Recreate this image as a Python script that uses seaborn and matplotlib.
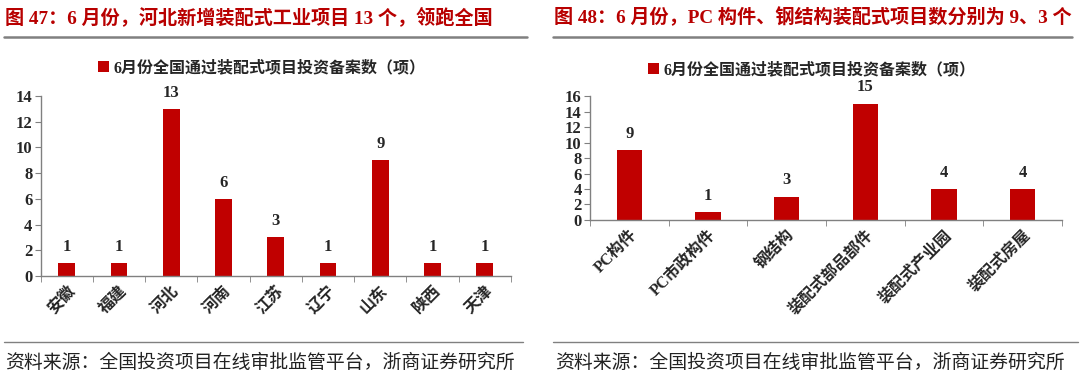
import matplotlib
matplotlib.use("Agg")
import matplotlib.pyplot as plt
import seaborn as sns
import pandas as pd
from matplotlib.ticker import FixedLocator, MultipleLocator
from matplotlib.lines import Line2D
from matplotlib.patches import Patch

sns.set_style("white")
plt.rcParams['font.family'] = ['Liberation Serif', 'Noto Sans CJK SC', 'DejaVu Sans']

# ---- data ----
left_title = "图 47：6 月份，河北新增装配式工业项目 13 个，领跑全国"
right_title = "图 48：6 月份，PC 构件、钢结构装配式项目数分别为 9、3 个"
legend_label = "6月份全国通过装配式项目投资备案数（项）"
source_text = "资料来源：全国投资项目在线审批监管平台，浙商证券研究所"

provinces = ["安徽", "福建", "河北", "河南", "江苏", "辽宁", "山东", "陕西", "天津"]
province_counts = [1, 1, 13, 6, 3, 1, 9, 1, 1]

types = ["PC构件", "PC市政构件", "钢结构", "装配式部品部件", "装配式产业园", "装配式房屋"]
type_counts = [9, 1, 3, 15, 4, 4]

RED = "#C00000"
TITLE_RED = "#B80000"
GRAY = "#808080"
CJK = ['Liberation Serif', 'Noto Sans CJK SC', 'DejaVu Sans']

fig = plt.figure(figsize=(10.8, 3.83), dpi=100)

def panel(rect, cats, vals, ymax, ystep, xlabel_size):
    ax = fig.add_axes(rect)
    df = pd.DataFrame({"cat": cats, "val": vals})
    sns.barplot(data=df, x="cat", y="val", color=RED, width=0.32, ax=ax,
                saturation=1, edgecolor="none")
    ax.set_xlim(-0.5, len(cats) - 0.5)
    ax.set_ylim(0, ymax)
    ax.yaxis.set_major_locator(MultipleLocator(ystep))
    ax.set_xlabel("")
    ax.set_ylabel("")
    for s in ["top", "right"]:
        ax.spines[s].set_visible(False)
    for s in ["left", "bottom"]:
        ax.spines[s].set_color(GRAY)
        ax.spines[s].set_linewidth(1.0)
    ax.xaxis.set_minor_locator(FixedLocator([i - 0.5 for i in range(len(cats) + 1)]))
    ax.tick_params(axis="x", which="major", length=0, pad=5)
    ax.tick_params(axis="x", which="minor", length=4, color=GRAY, direction="out", bottom=True)
    ax.tick_params(axis="y", length=4, color=GRAY, direction="out", left=True, pad=2)
    for lab in ax.get_yticklabels():
        lab.set_fontfamily('Liberation Serif')
        lab.set_fontweight("bold")
        lab.set_fontsize(12)
    ax.set_xticks(range(len(cats)))
    ax.set_xticklabels(cats, rotation=45, ha="right", va="top",
                       rotation_mode="anchor", fontsize=xlabel_size,
                       family=CJK, fontweight="bold")
    for c in ax.containers:
        ax.bar_label(c, padding=6, fontsize=12, fontweight="bold",
                     family='Liberation Serif')
    handle = Patch(facecolor=RED, edgecolor="none")
    ax.legend([handle], [legend_label], loc="lower center",
              bbox_to_anchor=(0.47, 1.03), frameon=False,
              prop={"family": CJK, "size": 11.5, "weight": "bold"},
              handlelength=0.7, handleheight=0.7, handletextpad=0.3)
    return ax

axL = panel([0.0377, 0.2794, 0.4354, 0.4699], provinces, province_counts, 14, 2, 11.5)
axR = panel([0.5463, 0.4256, 0.4370, 0.3237], types, type_counts, 16, 2, 11.5)

# titles
fig.text(5 / 1080, 1 - 17 / 383, left_title, color=TITLE_RED, fontsize=13.8,
         fontweight="bold", family=CJK, ha="left", va="center")
fig.text(554 / 1080, 1 - 17 / 383, right_title, color=TITLE_RED, fontsize=13.8,
         fontweight="bold", family=CJK, ha="left", va="center")

# separator lines
def hline(x0, x1, y, lw):
    fig.add_artist(Line2D([x0 / 1080, x1 / 1080], [1 - y / 383, 1 - y / 383],
                          color=GRAY, lw=lw, transform=fig.transFigure))

hline(4, 527, 37, 1.8)
hline(553, 1072, 37, 1.8)
hline(4, 523, 342, 1.0)
hline(553, 1078, 342, 1.0)

# sources
fig.text(5 / 1080, 1 - 363 / 383, source_text, fontsize=13.6, family=CJK,
         color="#222222", ha="left", va="center")
fig.text(555 / 1080, 1 - 363 / 383, source_text, fontsize=13.6, family=CJK,
         color="#222222", ha="left", va="center")

fig.savefig("out.png", dpi=100, facecolor="white")
